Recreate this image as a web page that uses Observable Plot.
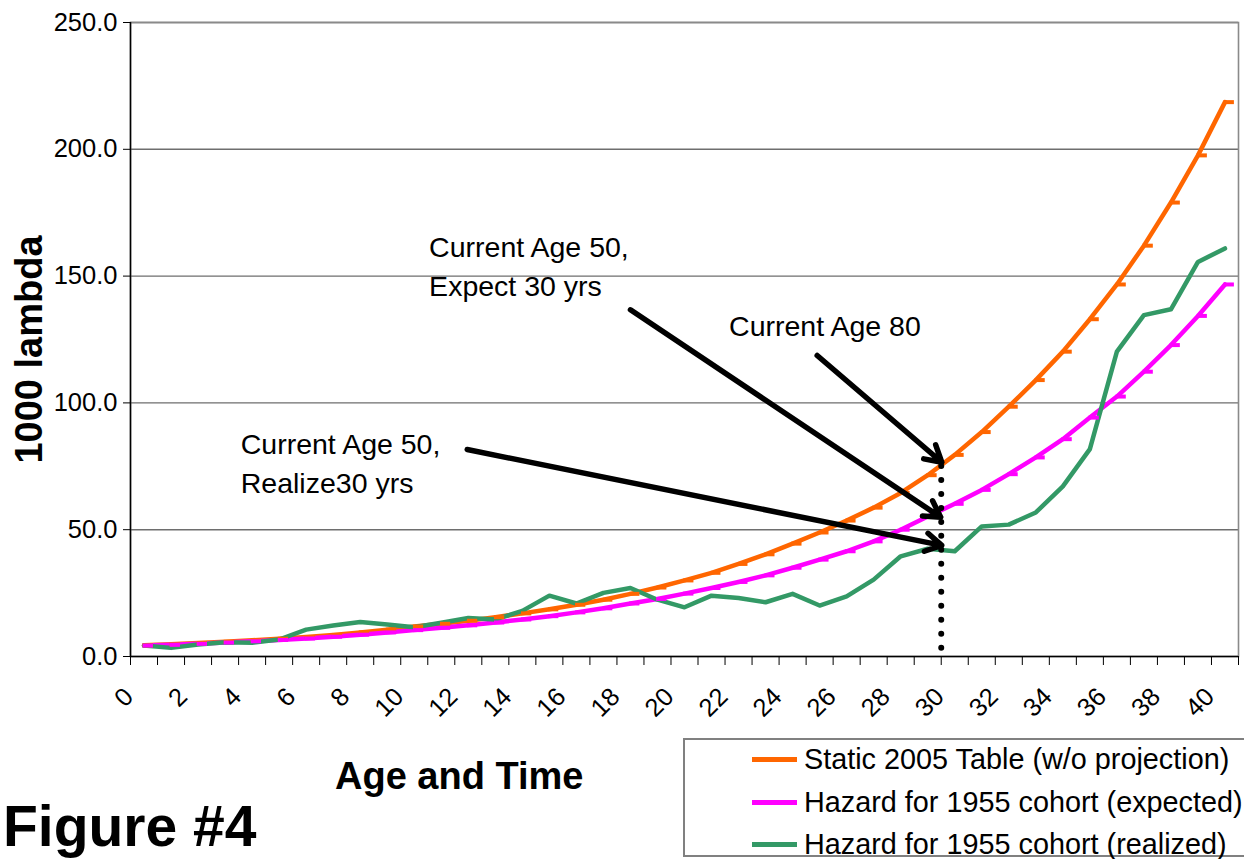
<!DOCTYPE html>
<html>
<head>
<meta charset="utf-8">
<script src="https://cdn.jsdelivr.net/npm/d3@7"></script>
<script src="https://cdn.jsdelivr.net/npm/@observablehq/plot@0.6"></script>
<style>
html, body { margin: 0; padding: 0; background: #fff; overflow: hidden; }
#wrap { position: relative; width: 1244px; height: 859px; overflow: hidden; font-family: "Liberation Sans", Arial, sans-serif; color: #000; }
#chart svg { display: block; }
#below { position: relative; width: 1244px; height: 123px; }
.xlab { position: absolute; left: 335px; top: 21px; font-size: 38px; font-weight: bold; line-height: 38px; white-space: nowrap; }
.fig { position: absolute; left: 3px; top: 62px; font-size: 57px; font-weight: bold; line-height: 57px; white-space: nowrap; }
.legend { position: absolute; left: 683px; top: 2px; width: 600px; height: 119px; box-sizing: border-box; border: 2px solid #808080; background: #fff; }
.row { position: absolute; left: 0; height: 34px; line-height: 34px; font-size: 28.8px; white-space: nowrap; }
.sw { position: absolute; left: 67px; top: 15px; width: 45px; height: 5px; }
.lt { position: absolute; left: 119px; top: 0; }
</style>
</head>
<body>
<div id="wrap">
  <div id="chart"></div>
  <div id="below"></div>
</div>
<script>
// ---- data ----
const ages = [0,1,2,3,4,5,6,7,8,9,10,11,12,13,14,15,16,17,18,19,20,21,22,23,24,25,26,27,28,29,30,31,32,33,34,35,36,37,38,39,40];
const static2005 = [4.4,4.8,5.3,5.8,6.4,7.0,7.7,8.5,9.5,10.6,11.8,12.9,14.1,15.5,17.0,18.6,20.4,22.4,24.7,27.2,30.0,33.0,36.5,40.3,44.5,48.9,53.6,58.7,64.5,71.5,79.5,88.5,98.5,109.0,120.2,133.0,146.7,162.0,179.0,197.6,218.6];
const expected1955 = [4.3,4.6,5.0,5.5,6.0,6.5,7.1,7.8,8.6,9.5,10.4,11.3,12.3,13.4,14.6,15.9,17.4,19.0,20.9,22.7,24.8,27.0,29.4,32.0,35.0,38.2,41.5,45.4,50.0,55.2,60.2,65.7,71.9,78.5,85.7,94.2,102.5,112.3,122.8,134.3,146.7];
const realized1955 = [4.3,3.4,4.7,5.6,5.4,6.7,10.6,12.2,13.6,12.6,11.5,13.3,15.2,14.6,18.0,24.0,20.9,25.1,27.0,22.4,19.4,24.0,23.1,21.4,24.7,20.1,23.7,30.3,39.5,42.5,41.5,51.3,52.0,56.8,67.1,81.8,120.2,134.6,136.9,155.6,160.9];
const seriesNames = ["Static 2005 Table (w/o projection)", "Hazard for 1955 cohort (expected)", "Hazard for 1955 cohort (realized)"];
const seriesColors = ["#FF6600", "#FF00FF", "#339966"];
const yTicks = [0, 50, 100, 150, 200, 250];
const xLabelTicks = [0,2,4,6,8,10,12,14,16,18,20,22,24,26,28,30,32,34,36,38,40];
const yTitle = "1000 lambda";
const xTitle = "Age and Time";
const figTitle = "Figure #4";
const notes = [
  {x: 10.55, y: 168.5, text: "Current Age 50,\nExpect 30 yrs"},
  {x: 21.65, y: 137.4, text: "Current Age 80"},
  {x: 3.58, y: 90.7, text: "Current Age 50,\nRealize30 yrs"}
];
const arrows = [
  {x1: 18.0, y1: 136.7, x2: 29.48, y2: 54.9},
  {x1: 24.91, y1: 118.7, x2: 29.52, y2: 76.6},
  {x1: 11.96, y1: 81.6, x2: 29.52, y2: 43.8}
];
const dotted = [{x: 29.5, y1: 3.3, y2: 75}];

// ---- derived tables ----
const toRows = vals => ages.map((a, i) => ({x: a, y: vals[i]}));
const sStatic = toRows(static2005);
const sExpected = toRows(expected1955);
const sRealized = toRows(realized1955);
const xDomain = [ages[0] - 0.5, ages[ages.length - 1] + 0.5];
const xBounds = ages.map(a => a - 0.5).concat([xDomain[1]]);

const chart = Plot.plot({
  width: 1244,
  height: 736,
  marginLeft: 130,
  marginRight: 6,
  marginTop: 22,
  marginBottom: 80,
  style: {fontFamily: "'Liberation Sans', Arial, sans-serif", background: "#fff", color: "#000"},
  x: {domain: xDomain},
  y: {domain: [yTicks[0], yTicks[yTicks.length - 1]]},
  marks: [
    Plot.gridY(yTicks.slice(1), {stroke: "#6e6e6e", strokeOpacity: 1, strokeWidth: 1.4}),
    Plot.frame({stroke: "#8a8a8a", strokeWidth: 1.6}),
    Plot.ruleX([xDomain[0]], {stroke: "#000", strokeWidth: 1.5}),
    Plot.ruleY([yTicks[0]], {stroke: "#000", strokeWidth: 1.5}),
    Plot.axisY(yTicks, {tickSize: 7, tickPadding: 6, fontSize: 25.5, tickFormat: d => d.toFixed(1), label: null, stroke: "#000"}),
    Plot.axisX(xBounds, {tickSize: 9, tickFormat: () => "", label: null, stroke: "#000"}),
    Plot.axisX(xLabelTicks, {tickSize: 0, tickPadding: 36, tickRotate: -45, textAnchor: "end", lineAnchor: "middle", dx: -15, fontSize: 25.5, label: null}),
    Plot.line(sStatic, {x: "x", y: "y", stroke: seriesColors[0], strokeWidth: 4.5}),
    Plot.line(sExpected, {x: "x", y: "y", stroke: seriesColors[1], strokeWidth: 4.5}),
    Plot.line(sRealized, {x: "x", y: "y", stroke: seriesColors[2], strokeWidth: 4.5}),
    Plot.link(sStatic, {x1: d => d.x - 0.05, x2: d => d.x + 0.33, y1: "y", y2: "y", stroke: seriesColors[0], strokeWidth: 4}),
    Plot.link(sExpected, {x1: d => d.x - 0.05, x2: d => d.x + 0.33, y1: "y", y2: "y", stroke: seriesColors[1], strokeWidth: 4}),
    Plot.ruleX(dotted, {x: "x", y1: "y1", y2: "y2", stroke: "#000", strokeWidth: 6, strokeDasharray: "0 13.97", strokeLinecap: "round"}),
    Plot.arrow(arrows, {x1: "x1", y1: "y1", x2: "x2", y2: "y2", stroke: "#000", strokeWidth: 5.5, headLength: 5, headAngle: 60}),
    Plot.text(notes, {x: "x", y: "y", text: "text", textAnchor: "start", lineAnchor: "top", fontSize: 28.5, lineHeight: 1.37, fill: "#000"}),
    Plot.text([yTitle], {text: d => d, frameAnchor: "left", rotate: -90, dx: -101, dy: 10, textAnchor: "middle", lineAnchor: "middle", fontSize: 38, fontWeight: "bold", fill: "#000"})
  ]
});
document.getElementById("chart").appendChild(chart);

// ---- below: axis title, figure title, legend ----
const below = document.getElementById("below");
const xl = document.createElement("div"); xl.className = "xlab"; xl.textContent = xTitle; below.appendChild(xl);
const fg = document.createElement("div"); fg.className = "fig"; fg.textContent = figTitle; below.appendChild(fg);
const lg = document.createElement("div"); lg.className = "legend";
const rowTops = [2.4, 45.2, 87.0];
seriesNames.forEach((name, i) => {
  const r = document.createElement("div"); r.className = "row"; r.style.top = rowTops[i] + "px";
  const sw = document.createElement("span"); sw.className = "sw"; sw.style.background = seriesColors[i];
  const t = document.createElement("span"); t.className = "lt"; t.textContent = name;
  r.appendChild(sw); r.appendChild(t); lg.appendChild(r);
});
below.appendChild(lg);
</script>
</body>
</html>
